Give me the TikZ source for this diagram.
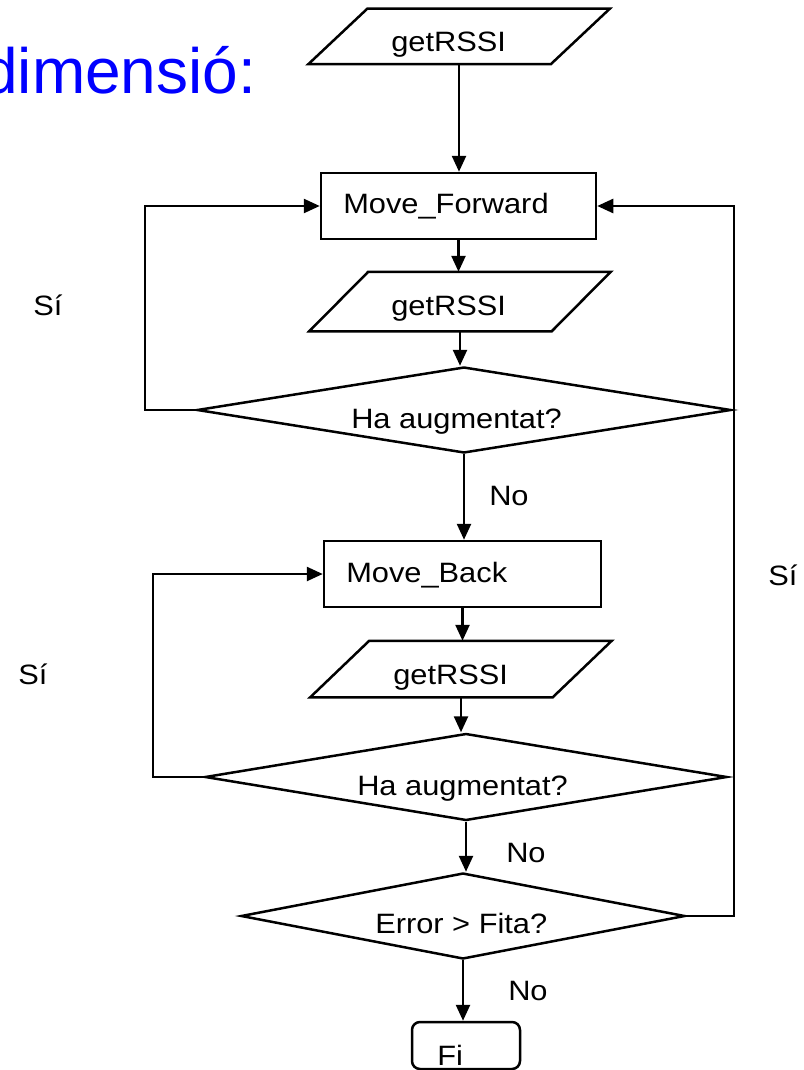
\documentclass[tikz,border=0pt]{standalone}
\usepackage{fontspec}
\setmainfont{Liberation Sans}
\usetikzlibrary{arrows.meta,shapes.geometric,calc}
\definecolor{titleblue}{RGB}{0,0,255}
% slightly widened lettering for the flowchart labels
\newcommand{\wide}[1]{\scalebox{1.1}[1]{#1}}

\begin{document}
\begin{tikzpicture}[x=1pt,y=-1pt,line width=2.5pt,
  box/.style={rectangle,draw,line width=2.5pt,inner sep=0pt},
  io/.style={rectangle,inner sep=0pt,minimum width=240pt},
  dec/.style={diamond,draw,line width=2.5pt,inner sep=0pt},
  lbl/.style={inner sep=0pt,anchor=base west,font=\fontsize{28}{32}\selectfont},
  flow/.style={line width=2.5pt,-{Triangle[length=16pt,width=14pt]}},
]
\path[fill=white,use as bounding box] (0,0) rectangle (803,1070);

% title (runs off the left edge)
\node[inner sep=0pt,anchor=base west,text=titleblue,font=\fontsize{64}{70}\selectfont] (title) at (-19,94) {dimensió:};

% shapes
\node[io,minimum height=53pt] (p1) at (459,36.5) {};
\node[box,minimum width=275pt,minimum height=66pt] (b1) at (458.5,206) {};
\node[io,minimum height=57pt] (p2) at (460,301.5) {};
\node[dec,minimum width=534pt,minimum height=86pt] (d1) at (464,410) {};
\node[box,minimum width=277pt,minimum height=66pt] (b2) at (462.5,574) {};
\node[io,minimum height=54pt] (p3) at (461,669) {};
\node[dec,minimum width=522pt,minimum height=87pt] (d2) at (466,777) {};
\node[dec,minimum width=444pt,minimum height=86pt] (d3) at (463,916) {};
\node[box,rounded corners=8pt,minimum width=108pt,minimum height=47pt] (fi) at (466,1045.5) {};

% input/output parallelograms
\foreach \p in {p1,p2,p3}
  \draw ($(\p.north west)+(29.5,0)$) -- ($(\p.north east)+(29.5,0)$)
     -- ($(\p.south east)+(-29.5,0)$) -- ($(\p.south west)+(-29.5,0)$) -- cycle;

% labels
\node[lbl] (tp1) at (390,52) {\wide{getRSSI}};
\node[lbl] (tb1) at (342,213) {\wide{Move\_Forward}};
\node[lbl] (tp2) at (390,315) {\wide{getRSSI}};
\node[lbl] (td1) at (350,428) {\wide{Ha augmentat?}};
\node[lbl] (no1) at (488,505) {\wide{No}};
\node[lbl] (tb2) at (345,582) {\wide{Move\_Back}};
\node[lbl] (tp3) at (392,684) {\wide{getRSSI}};
\node[lbl] (td2) at (356,795) {\wide{Ha augmentat?}};
\node[lbl] (no2) at (505,862) {\wide{No}};
\node[lbl] (td3) at (374,933) {\wide{Error > Fita?}};
\node[lbl] (no3) at (507,1000) {\wide{No}};
\node[lbl] (tfi) at (436,1065) {\wide{Fi}};
\node[lbl] (si1) at (32,315) {\wide{Sí}};
\node[lbl] (si2) at (17,684) {\wide{Sí}};
\node[lbl] (si3) at (767,585) {\wide{Sí}};

% loop columns
\coordinate (lx1) at (145,0);
\coordinate (lx2) at (153,0);
\coordinate (rx) at (734,0);

% connectors
\draw[flow] (p1.south) -- (p1.south |- b1.north);
\draw[flow] (b1.south) -- (b1.south |- p2.north);
\draw[flow] (p2.south) -- (p2.south |- d1.north);
\draw[flow] (d1.south) -- (d1.south |- b2.north);
\draw[flow] (b2.south) -- (b2.south |- p3.north);
\draw[flow] (p3.south) -- (p3.south |- d2.north);
\draw[flow] (d2.south) -- (d2.south |- d3.north);
\draw[flow] (d3.south) -- (d3.south |- fi.north);
\draw[flow] (d1.west) -- (d1.west -| lx1) |- (b1.west);
\draw[flow] (d2.west) -- (d2.west -| lx2) |- (b2.west);
\draw[flow] (d3.east) -- (d3.east -| rx) |- (b1.east);
\end{tikzpicture}
\end{document}
